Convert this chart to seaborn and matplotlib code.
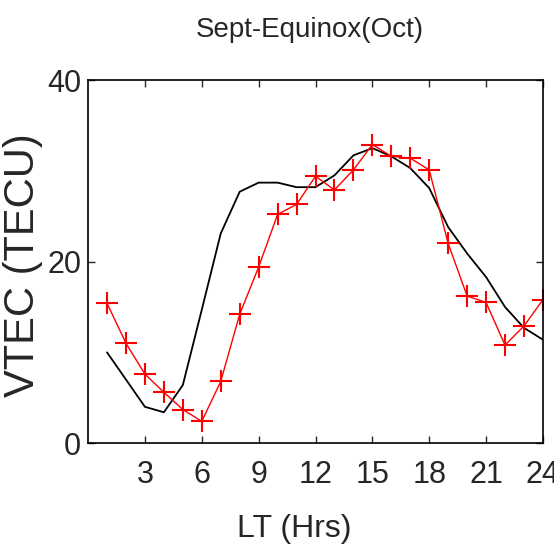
import matplotlib
matplotlib.use("Agg")
import matplotlib.pyplot as plt
import seaborn as sns
import pandas as pd

hours = list(range(1, 25))
vtec_obs = [15.4, 11.0, 7.6, 5.6, 3.7, 2.4, 6.8, 14.2, 19.4, 25.2, 26.3, 29.4,
            27.9, 30.1, 32.9, 31.6, 31.4, 30.1, 22.0, 16.2, 15.5, 10.8, 12.9, 15.8]
vtec_model = [10.0, 7.0, 4.0, 3.4, 6.4, 14.7, 23.1, 27.7, 28.7, 28.7, 28.2, 28.2,
              29.5, 31.7, 32.5, 31.6, 30.3, 28.1, 23.8, 20.9, 18.3, 15.0, 12.7, 11.4]
xticks = [3, 6, 9, 12, 15, 18, 21, 24]
yticks = [0, 20, 40]

sns.set_style("white")
plt.rcParams['font.family'] = ['Liberation Sans', 'DejaVu Sans']

df = pd.DataFrame({"LT": hours, "obs": vtec_obs, "model": vtec_model})

fig = plt.figure(figsize=(5.54, 5.56), dpi=100)
ax = fig.add_axes([0.159, 0.203, 0.821, 0.653])
sns.lineplot(data=df, x="LT", y="model", ax=ax, color="black", linewidth=1.3)
sns.lineplot(data=df, x="LT", y="obs", ax=ax, color="red", linewidth=1.0,
             marker="+", markersize=16, markeredgewidth=1.5, markeredgecolor="red")
ax.set_xlim(0, 24)
ax.set_ylim(0, 40)
ax.set_xticks(xticks)
ax.set_yticks(yticks)
ax.tick_params(direction="in", length=5, width=1, labelsize=22, top=True, right=True,
               bottom=True, left=True)
ax.tick_params(axis="x", pad=12)
ax.tick_params(axis="y", pad=5)
for s in ax.spines.values():
    s.set_color("black")
    s.set_linewidth(1.2)
ax.set_xlabel("LT (Hrs)", fontsize=23)
ax.xaxis.set_label_coords(0.453, -0.195)
ax.set_ylabel("VTEC (TECU)", fontsize=30)
ax.yaxis.set_label_coords(-0.10, 0.49)
fig.text(0.56, 1 - 30 / 556, "Sept-Equinox(Oct)", fontsize=20, ha="center", va="center")
fig.savefig("out.png", dpi=100)
